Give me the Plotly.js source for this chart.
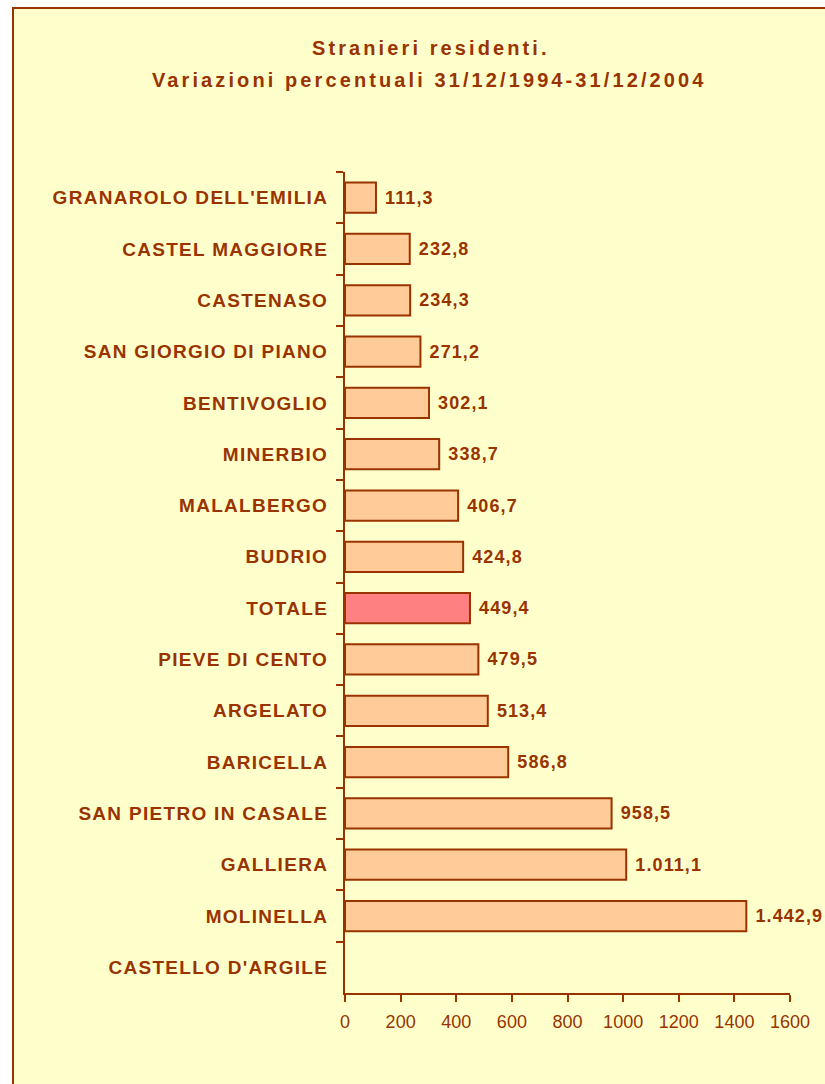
<!DOCTYPE html>
<html>
<head>
<meta charset="utf-8">
<script src="https://cdn.plot.ly/plotly-3.0.1.min.js"></script>
<style>
  html, body { margin: 0; padding: 0; background: #ffffff; }
  #chart { width: 825px; height: 1084px; }
  .ytick text { letter-spacing: 1.3px; }
  .bartext { letter-spacing: 1.1px; }
  .annotation-text { letter-spacing: 3.1px; }
</style>
</head>
<body>
<div id="chart"></div>
<script>
// ---- data ----
const categories = [
  "GRANAROLO DELL'EMILIA",
  "CASTEL MAGGIORE",
  "CASTENASO",
  "SAN GIORGIO DI PIANO",
  "BENTIVOGLIO",
  "MINERBIO",
  "MALALBERGO",
  "BUDRIO",
  "TOTALE",
  "PIEVE DI CENTO",
  "ARGELATO",
  "BARICELLA",
  "SAN PIETRO IN CASALE",
  "GALLIERA",
  "MOLINELLA",
  "CASTELLO D'ARGILE"
];
const values = [111.3, 232.8, 234.3, 271.2, 302.1, 338.7, 406.7, 424.8, 449.4,
                479.5, 513.4, 586.8, 958.5, 1011.1, 1442.9, null];
const highlightCategory = "TOTALE";
const xTickValues = [0, 200, 400, 600, 800, 1000, 1200, 1400, 1600];
const titleLines = ["Stranieri residenti.", "Variazioni percentuali 31/12/1994-31/12/2004"];

// ---- styles ----
const brown = "#993300";
const barFill = "#FFCC99";
const barHighlight = "#FF8080";
const bgYellow = "#FFFFCC";

function fmtIt(v) {
  if (v === null || v === undefined) return "";
  const parts = v.toFixed(1).split(".");
  const intPart = parts[0].replace(/\B(?=(\d{3})+(?!\d))/g, ".");
  return "\u00a0" + intPart + "," + parts[1];
}

const W = 825, H = 1084;
const m = {l: 345, r: 35, t: 172, b: 91};
const pw = W - m.l - m.r, ph = H - m.t - m.b;
const px2x = px => (px - m.l) / pw;
const py2y = py => (H - m.b - py) / ph;

const trace = {
  type: "bar",
  orientation: "h",
  y: categories,
  x: values,
  text: values.map(fmtIt),
  textposition: "outside",
  constraintext: "none",
  cliponaxis: false,
  textfont: {family: "Liberation Sans, Arial, sans-serif", size: 18, color: brown, weight: "bold"},
  marker: {
    color: categories.map(c => c === highlightCategory ? barHighlight : barFill),
    line: {color: brown, width: 2}
  },
  hoverinfo: "none"
};

const layout = {
  width: W, height: H,
  margin: m,
  paper_bgcolor: "#ffffff",
  plot_bgcolor: bgYellow,
  showlegend: false,
  bargap: 0.41,
  font: {family: "Liberation Sans, Arial, sans-serif", color: brown},
  xaxis: {
    range: [0, 1600],
    tickvals: xTickValues,
    ticktext: xTickValues.map(String),
    ticks: "outside", ticklen: 7, tickwidth: 2, tickcolor: brown,
    showline: true, linecolor: brown, linewidth: 2,
    showgrid: false, zeroline: false,
    tickfont: {size: 18, color: brown},
    ticklabelstandoff: 4,
    fixedrange: true
  },
  yaxis: {
    type: "category",
    autorange: "reversed",
    tickson: "boundaries",
    ticks: "outside", ticklen: 7, tickwidth: 2, tickcolor: brown,
    showline: true, linecolor: brown, linewidth: 2,
    showgrid: false, zeroline: false,
    tickfont: {size: 19, color: brown, weight: "bold"},
    ticklabelstandoff: 11,
    fixedrange: true
  },
  shapes: [{
    type: "rect", xref: "paper", yref: "paper", layer: "below",
    x0: px2x(13), x1: px2x(W + 20), y0: py2y(H + 20), y1: py2y(8),
    fillcolor: bgYellow, line: {color: brown, width: 2}
  }],
  annotations: [
    {text: titleLines[0], xref: "paper", yref: "paper", x: px2x(431), y: py2y(48),
     xanchor: "center", yanchor: "middle", showarrow: false,
     font: {size: 20, color: brown, weight: "bold"}},
    {text: titleLines[1], xref: "paper", yref: "paper", x: px2x(429), y: py2y(80),
     xanchor: "center", yanchor: "middle", showarrow: false,
     font: {size: 20, color: brown, weight: "bold"}}
  ]
};

Plotly.newPlot("chart", [trace], layout, {displayModeBar: false, staticPlot: true});
</script>
</body>
</html>
